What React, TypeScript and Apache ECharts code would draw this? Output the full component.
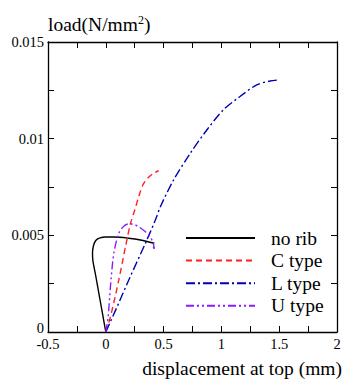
import React, { useEffect, useRef } from "react";
import * as echarts from "echarts";

const seriesNames = ["no rib", "C type", "L type", "U type"];
const xTickLabels = ["-0.5", "0", "0.5", "1", "1.5", "2"];
const yTickLabels = ["0", "0.005", "0.01", "0.015"];

const noRib: [number, number][] = [
  [0, 0], [-0.03, 0.001], [-0.06, 0.002], [-0.09, 0.003], [-0.112, 0.0037],
  [-0.115, 0.0041], [-0.105, 0.0045], [-0.085, 0.00475], [-0.05, 0.00487],
  [0.0, 0.00491], [0.07, 0.00491], [0.198, 0.00485], [0.3, 0.00476], [0.42, 0.00459],
];
const cType: [number, number][] = [
  [0, 0], [0.04, 0.00078], [0.112, 0.00268], [0.17, 0.0044], [0.213, 0.0056],
  [0.25, 0.0063], [0.285, 0.0070], [0.32, 0.0076], [0.362, 0.00795], [0.41, 0.0082], [0.457, 0.00834],
];
const lType: [number, number][] = [
  [0, 0], [0.084, 0.00112], [0.198, 0.00268], [0.342, 0.00458], [0.428, 0.00578],
  [0.472, 0.00648], [0.586, 0.00786], [0.73, 0.00924], [0.874, 0.01045],
  [1.017, 0.01149], [1.161, 0.01218], [1.305, 0.01278], [1.42, 0.01298], [1.506, 0.01304],
];
const uType: [number, number][] = [
  [0, 0], [0.02, 0.00078], [0.04, 0.00233], [0.069, 0.00405], [0.112, 0.0051],
  [0.16, 0.0055], [0.205, 0.0056], [0.25, 0.00555], [0.285, 0.00544], [0.34, 0.0052],
  [0.385, 0.00492], [0.41, 0.0046], [0.42, 0.0043], [0.405, 0.00445],
];

const FONT = "'Liberation Serif', 'Times New Roman', serif";

export default function App() {
  const ref = useRef<HTMLDivElement>(null);
  useEffect(() => {
    if (!ref.current) return;
    const chart = echarts.init(ref.current, null, { renderer: "svg" });
    const axisLine = { show: true, onZero: false, lineStyle: { color: "#000", width: 1.3 } };
    const tick = { show: true, inside: true, length: 6, lineStyle: { color: "#000", width: 1 } };
    const minor = { show: true, splitNumber: 2, length: 6, lineStyle: { color: "#000", width: 1 } };
    const xCommon = {
      type: "value", min: -0.5, max: 2, interval: 0.5,
      axisLine, axisTick: tick, minorTick: minor, splitLine: { show: false },
    };
    const yCommon = {
      type: "value", min: 0, max: 0.015, interval: 0.005,
      axisLine, axisTick: tick, minorTick: minor, splitLine: { show: false },
    };
    const mk = (name: string, data: [number, number][], color: string, type: any) => ({
      name, type: "line", data, symbol: "none", smooth: 0.3,
      lineStyle: { color, width: 1.4, type },
      itemStyle: { color },
    });
    chart.setOption({
      animation: false,
      textStyle: { fontFamily: FONT },
      grid: { left: 48, right: 11, top: 42, bottom: 48 },
      xAxis: [
        {
          ...xCommon, position: "bottom",
          axisLabel: {
            color: "#000", fontSize: 14.5, fontFamily: FONT, margin: 4,
            formatter: (v: number) => xTickLabels[Math.round((v + 0.5) / 0.5)] ?? "",
          },
          name: "displacement at top (mm)", nameLocation: "end", nameGap: 5,
          nameTextStyle: { color: "#000", fontSize: 19.5, fontFamily: FONT, align: "right", verticalAlign: "top", padding: [26, 0, 0, 0] },
        },
        { ...xCommon, position: "top", axisLabel: { show: false } },
      ],
      yAxis: [
        {
          ...yCommon, position: "left",
          axisLabel: {
            color: "#000", fontSize: 14.5, fontFamily: FONT, margin: 4,
            formatter: (v: number) => {
              const i = Math.round(v / 0.005);
              return i === 0 ? "{z|" + yTickLabels[0] + "}" : yTickLabels[i] ?? "";
            },
            rich: { z: { fontSize: 14.5, fontFamily: FONT, color: "#000", padding: [0, 0, 9, 0] } },
          },
          name: "load(N/mm{sup|2})", nameLocation: "end", nameGap: 12,
          nameTextStyle: {
            color: "#000", fontSize: 19.5, fontFamily: FONT, align: "left", verticalAlign: "middle",
            rich: { sup: { fontSize: 12, fontFamily: FONT, color: "#000", verticalAlign: "bottom", padding: [0, 0, 9, 0] } },
          },
        },
        { ...yCommon, position: "right", axisLabel: { show: false } },
      ],
      legend: {
        orient: "vertical", left: 185, top: 228, padding: 0, itemWidth: 69, itemHeight: 14, itemGap: 2.6,
        data: seriesNames,
        itemStyle: { opacity: 0 },
        textStyle: { color: "#000", fontSize: 19.5, fontFamily: FONT, padding: [0, 0, 0, 11] },
      },
      series: [
        mk(seriesNames[0], noRib, "#000000", "solid"),
        mk(seriesNames[1], cType, "#ff2020", [6, 4]),
        mk(seriesNames[2], lType, "#0000b0", [9, 3, 2, 3]),
        mk(seriesNames[3], uType, "#8a1cff", [8, 3, 2, 3, 2, 3]),
      ],
    });
    return () => chart.dispose();
  }, []);
  return <div ref={ref} style={{ width: 348, height: 380, position: "absolute", left: 0, top: 0 }} />;
}
